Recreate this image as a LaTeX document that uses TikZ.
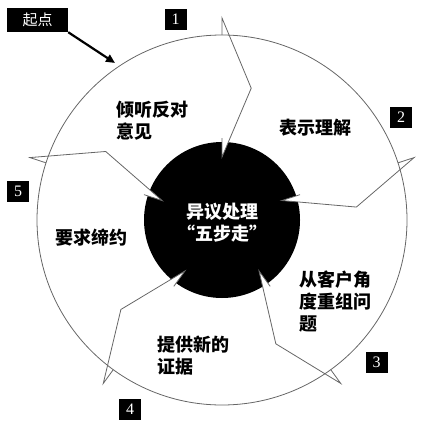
\documentclass[tikz,border=0pt]{standalone}
\usepackage{fontspec}
\setmainfont{Liberation Serif}
\newfontfamily\cjk{Noto Sans CJK SC}
\usetikzlibrary{arrows.meta,calc}
\begin{document}
\begin{tikzpicture}[x=1pt,y=-1pt,
  rim/.style={draw=black!60,line width=0.8pt},
  numbox/.style={fill=black,text=white,minimum width=22pt,minimum height=21pt,inner sep=0pt,font=\fontsize{16}{16}\selectfont},
  steplabel/.style={font=\cjk\bfseries\fontsize{18}{22}\selectfont,align=left,inner sep=0pt,anchor=west}]
\useasboundingbox (0,0) rectangle (435,425);
\coordinate (C) at (222,220);
\draw[rim] (C) circle[radius=185];
\fill[black] (C) circle[radius=78];
\begin{scope}[shift={(C)},yscale=-1]
\foreach \a [count=\i] in {90,18,-54,-126,-198}{
  \coordinate (O\i) at (\a:202);
  \coordinate (T\i) at (\a:185);
  \coordinate (B\i) at (\a-12.5:135);
  \coordinate (I\i) at (\a:63);
  \coordinate (J\i) at (\a:82);
}
\end{scope}
\foreach \i in {1,...,5}{
  \fill[white] (I\i) -- (J\i) -- ($(I\i)!0.3!(B\i)$) -- cycle;
  \draw[rim] (T\i) -- (O\i) -- (B\i) -- (I\i) -- (J\i);
}
% start box and arrow
\node[fill=black,text=white,font=\cjk\fontsize{15}{15}\selectfont,minimum width=61pt,minimum height=24pt,inner sep=0pt] (start) at (37.5,20) {起点};
\coordinate (startend) at (115,63);
\draw[line width=2.2pt,-{Triangle[length=9pt,width=8pt]}] (start.south east) -- (startend);
% number boxes
\node[numbox] (n1) at (175.5,19.5) {1};
\node[numbox] (n2) at (401,117) {2};
\node[numbox] (n3) at (376.5,362.5) {3};
\node[numbox] (n4) at (130,409) {4};
\node[numbox] (n5) at (18,191.5) {5};
% labels
\node[steplabel] (s1) at (116,121) {倾听反对\\意见};
\node[steplabel] (s2) at (279,128) {表示理解};
\node[steplabel] (s3) at (299,302) {从客户角\\度重组问\\题};
\node[steplabel] (s4) at (157,356) {提供新的\\证据};
\node[steplabel] (s5) at (55,238) {要求缔约};
\node[font=\cjk\bfseries\fontsize{18}{22}\selectfont,text=white,align=center,inner sep=0pt] (core) at (222,223) {异议处理\\“五步走”};
\end{tikzpicture}
\end{document}
